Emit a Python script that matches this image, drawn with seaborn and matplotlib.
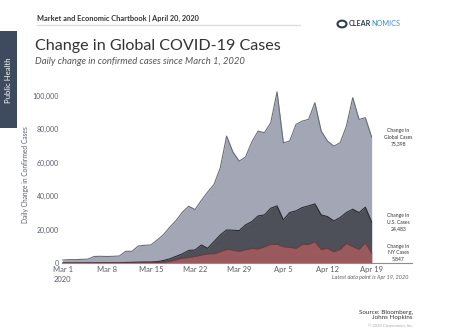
import numpy as np
import pandas as pd
import matplotlib
matplotlib.use("Agg")
import matplotlib.pyplot as plt
import seaborn as sns
from matplotlib.patches import Rectangle, Circle

# ---- data (daily new confirmed cases, thousands), Mar 1 .. Apr 19, 2020
dates = pd.date_range("2020-03-01", "2020-04-19", freq="D")
global_k = [1.8, 2.0, 2.0, 2.2, 2.3, 3.9, 4.0, 3.9, 4.0, 4.2,
            7.0, 7.0, 10.2, 10.6, 10.8, 13.8, 17.0, 21.5, 25.5, 30.5,
            34.0, 32.0, 37.5, 42.5, 47.0, 57.0, 76.0, 66.5, 61.0, 63.5,
            72.5, 79.0, 78.0, 84.0, 102.5, 72.0, 73.0, 83.0, 85.0, 86.0,
            96.0, 79.0, 73.0, 70.0, 72.0, 82.0, 99.0, 86.0, 87.0, 75.398]
us_k = [0.01, 0.02, 0.02, 0.03, 0.04, 0.07, 0.1, 0.1, 0.1, 0.15,
        0.3, 0.4, 0.5, 0.6, 0.6, 0.8, 1.5, 2.5, 4.0, 5.5,
        7.5, 7.8, 10.8, 8.8, 12.8, 16.8, 19.8, 19.6, 19.4, 22.8,
        24.8, 28.2, 28.8, 32.8, 34.2, 25.8, 30.2, 31.2, 33.2, 34.2,
        35.4, 28.8, 27.8, 25.2, 27.2, 30.2, 32.2, 30.2, 33.4, 24.483]
ny_k = [0.0, 0.0, 0.0, 0.0, 0.0, 0.0, 0.0, 0.01, 0.02, 0.03,
        0.05, 0.1, 0.1, 0.15, 0.2, 0.3, 0.5, 1.0, 2.0, 3.0,
        3.3, 4.0, 4.8, 5.5, 5.6, 6.8, 8.2, 7.8, 7.0, 8.0,
        8.8, 8.4, 9.8, 11.2, 11.2, 9.8, 9.4, 8.8, 11.2, 11.2,
        12.8, 8.2, 8.8, 6.8, 8.2, 11.8, 9.8, 8.2, 12.2, 5.847]
tick_labels = ["Mar 1\n2020", "Mar 8", "Mar 15", "Mar 22", "Mar 29", "Apr 5", "Apr 12", "Apr 19"]
y_ticks = [0, 20000, 40000, 60000, 80000, 100000]
end_labels = [("Change in\nGlobal Cases\n75,398", 75398),
              ("Change in\nU.S. Cases\n24,483", 24483),
              ("Change in\nNY Cases\n5,847", 6000)]

df = pd.DataFrame({"date": dates,
                   "Global": np.array(global_k) * 1000,
                   "US": np.array(us_k) * 1000,
                   "NY": np.array(ny_k) * 1000})
df["day"] = (df["date"] - df["date"].iloc[0]).dt.days

sns.set_theme(style="white")
plt.rcParams["font.family"] = ["Lato", "DejaVu Sans"]

fig = plt.figure(figsize=(4.49, 3.36), dpi=100)
ax = fig.add_axes([62/449, 1-263/336, (412-62)/449, (263-86)/336])

series = [("Global", "#a3a6b5", "#6a6d78"),
          ("US", "#4d5059", "#2a2c31"),
          ("NY", "#9a5a5d", "#6e3a3d")]
for col, fc, ec in series:
    ax.fill_between(df["day"], 0, df[col], color=fc, linewidth=0, zorder=2)
    sns.lineplot(data=df, x="day", y=col, ax=ax, color=ec, linewidth=0.8, zorder=3)

ax.set_xlim(-0.1, (412-63)/6.3)
ax.set_ylim(0, 106000)
ax.set_xticks(range(0, 50, 7))
ax.set_xticklabels(tick_labels, fontsize=5.5, color="#5a5e6b", linespacing=1.5)
ax.set_yticks(y_ticks)
ax.set_yticklabels([f"{v:,}" for v in y_ticks], fontsize=5, color="#5a5e6b")
ax.tick_params(axis="both", length=0, pad=2)
ax.set_xlabel("")
ax.set_ylabel("Daily Change in Confirmed Cases", fontsize=4.8, color="#5a5e6b", labelpad=3)
for s in ["top", "right", "left"]:
    ax.spines[s].set_visible(False)
ax.spines["bottom"].set_color("#8a8d99")
ax.spines["bottom"].set_linewidth(0.8)
ax.grid(False)

for txt, v in end_labels:
    ax.text(53.2, v, txt, fontsize=3.6, color="#333333", ha="center", va="center", linespacing=1.3)

fig.text(408/449, 1-277/336, "Latest data point is Apr 19, 2020", fontsize=4, style="italic",
         color="#5a5e6b", ha="right", va="center")

# header
fig.text(37/449, 1-18/336, "Market and Economic Chartbook | April 20, 2020", fontsize=5.3,
         fontweight="bold", color="#333333", ha="left", va="center")
fig.add_artist(plt.Line2D([37/449, 300/449], [1-25/336, 1-25/336], color="#dddddd", lw=1))
fig.text(35/449, 1-46/336, "Change in Global COVID-19 Cases", fontsize=11.6, color="#333333",
         ha="left", va="center")
fig.text(35/449, 1-61/336, "Daily change in confirmed cases since March 1, 2020", fontsize=6.8,
         style="italic", color="#555555", ha="left", va="center")

# logo
fig.add_artist(Circle((342/449, 1-24/336), 4.5/449, transform=fig.transFigure,
                      facecolor="none", edgecolor="#2c3e50", lw=1.5))
t1 = fig.text(349/449, 1-24/336, "CLEAR", fontsize=5.2, fontweight="bold", color="#2c3e50",
              ha="left", va="center")
r = fig.canvas.get_renderer()
bb = t1.get_window_extent(renderer=r)
fig.text((bb.x1 + 0.2) / fig.bbox.width, 1-24/336, "NOMICS", fontsize=5.2, color="#3a8fc4",
         ha="left", va="center")

# sidebar
fig.add_artist(Rectangle((0, 1-128/336), 17/449, 97/336, transform=fig.transFigure,
                         facecolor="#3e4b5e", edgecolor="none"))
fig.text(8.5/449, 1-80/336, "Public Health", fontsize=5.6, color="white", rotation=90,
         ha="center", va="center")

# footer
fig.text(413/449, 1-315/336, "Source: Bloomberg,\nJohns Hopkins", fontsize=4.5, color="#333333",
         ha="right", va="center", linespacing=1.2)
fig.text(413/449, 1-326/336, "© 2020 Clearnomics, Inc.", fontsize=3, color="#aaaaaa",
         ha="right", va="center")

fig.savefig("out.png", dpi=100)
